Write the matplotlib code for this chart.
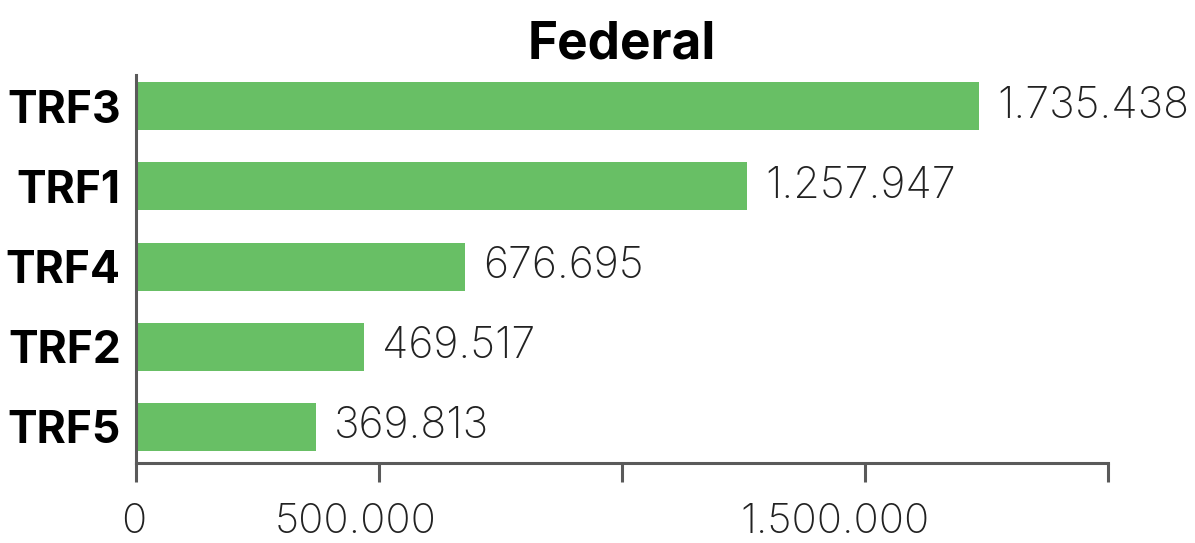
import matplotlib
matplotlib.use("Agg")
import matplotlib.pyplot as plt
import matplotlib.transforms as mtransforms

# Datos
tribunais = ["TRF3", "TRF1", "TRF4", "TRF2", "TRF5"]
valores = [1735438, 1257947, 676695, 469517, 369813]
ticks_x = [0, 500000, 1000000, 1500000, 2000000]
ticks_txt = ["0", "500.000", "", "1.500.000", ""]


def fmt(v):
    return f"{v:,}".replace(",", ".")


plt.rcParams["font.family"] = ["Inter", "DejaVu Sans"]

fig = plt.figure(figsize=(11.95, 5.43), dpi=100)
ax = fig.add_axes([0.1138, 0.1473, 0.8134, 0.7146])

pos = list(range(len(tribunais)))
ax.barh(pos, valores, height=0.6, color="#68BF65")

for y, v in zip(pos, valores):
    ax.annotate(fmt(v), (v, y), xytext=(13, 0), textcoords="offset points",
                va="center", ha="left", fontsize=31, fontweight="light",
                color="#222222")

ax.set_xlim(0, 2000000)
ax.set_ylim(4.45, -0.39)
ax.set_yticks(pos)
ax.set_yticklabels(tribunais, fontsize=32, fontweight="bold")
ax.set_xticks(ticks_x)
ax.set_xticklabels(ticks_txt, fontsize=30, fontweight="light", color="#222222")

for s in ["top", "right"]:
    ax.spines[s].set_visible(False)
for s in ["left", "bottom"]:
    ax.spines[s].set_color("#5a5a5a")
    ax.spines[s].set_linewidth(2.2)

ax.tick_params(axis="y", length=0, pad=11)
ax.tick_params(axis="x", length=14, width=2.2, color="#5a5a5a", pad=15)

# pequeño corrimiento de las etiquetas del eje x
desvio = [-2, -23, 0, -30, 0]
for lbl, dx in zip(ax.get_xticklabels(), desvio):
    lbl.set_transform(lbl.get_transform() +
                      mtransforms.ScaledTranslation(dx / 100, 0, fig.dpi_scale_trans))

ax.set_title("Federal", fontsize=37, fontweight="bold", pad=12)

fig.savefig("out.png", dpi=100)
